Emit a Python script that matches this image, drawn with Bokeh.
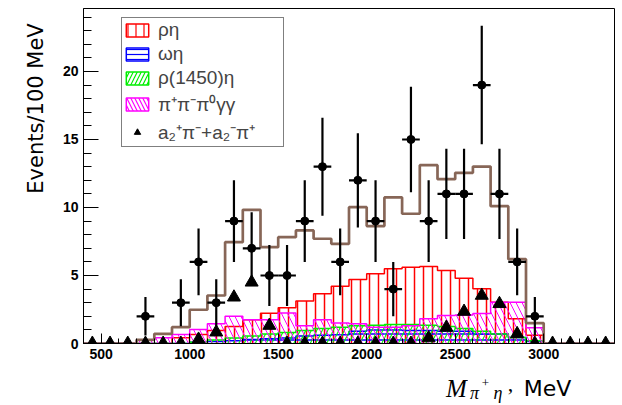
import numpy as np
from bokeh.plotting import figure
from bokeh.layouts import row, column
from bokeh.models import (Range1d, SingleIntervalTicker, FixedTicker, Legend,
                          LegendItem, ColumnDataSource)
from bokeh.embed import file_html
from bokeh.resources import INLINE

# ---------------- data ----------------
bin_centers = [450, 550, 650, 750, 850, 950, 1050, 1150, 1250, 1350,
               1450, 1550, 1650, 1750, 1850, 1950, 2050, 2150, 2250, 2350,
               2450, 2550, 2650, 2750, 2850, 2950, 3050, 3150, 3250, 3350]
bin_width = 100

total_mc = [0, 0, 0, 0.27, 0.71, 1.2, 2.48, 3.53, 7.45, 9.83,
            7.08, 7.82, 8.31, 7.7, 7.33, 10.02, 8.63, 10.74, 9.54, 13.11,
            12.08, 12.55, 13.01, 10.1, 6.2, 1.5, 0, 0, 0, 0]
rho_eta = [0, 0, 0, 0, 0, 0.42, 0.66, 0.96, 1.25, 1.74,
           2.23, 2.63, 3.13, 3.65, 4.2, 4.7, 5.13, 5.5, 5.61, 5.66,
           5.37, 4.8, 4.02, 3.04, 1.82, 0.6, 0, 0, 0, 0]
omega_eta = [0, 0, 0, 0, 0, 0, 0.1, 0.15, 0.2, 0.3,
             0.35, 0.4, 0.55, 0.6, 0.65, 0.9, 1.0, 1.0, 0.95, 0.95,
             0.9, 0.9, 0.7, 0.7, 0.45, 0.15, 0, 0, 0, 0]
rho1450_eta = [0, 0, 0, 0, 0, 0, 0.1, 0.25, 0.4, 0.55,
               0.7, 0.8, 0.95, 1.1, 1.2, 1.3, 1.35, 1.4, 1.4, 1.35,
               1.25, 1.1, 0.9, 0.7, 0.45, 0.2, 0, 0, 0, 0]
pipipi0gg = [0, 0, 0, 0.27, 0.42, 0.66, 1.03, 1.45, 2.0, 1.75,
             1.75, 2.25, 1.3, 1.75, 1.5, 1.45, 1.2, 1.2, 1.3, 1.82,
             2.06, 2.1, 2.2, 3.04, 3.04, 1.15, 0, 0, 0, 0]
a2pi = [0, 0, 0, 0, 0, 0, 0.3, 0.83, 3.4, 4.5,
        1.32, 0, 0, 0, 0, 0, 0, 0, 0, 0.4,
        1.18, 2.35, 3.53, 2.92, 0.71, 0, 0, 0, 0, 0]

data_x = [750, 950, 1050, 1150, 1250, 1350, 1450, 1550, 1650, 1750, 1850,
          1950, 2050, 2150, 2250, 2350, 2450, 2550, 2650, 2750, 2850, 2950]
data_n = [2, 3, 6, 3, 9, 7, 5, 5, 9, 13, 6,
          12, 9, 4, 15, 9, 11, 11, 19, 11, 6, 2]

x_ticks_interval = 500
y_ticks_interval = 5

FONT = "Liberation Sans"

# ---------------- main figure ----------------
p = figure(width=573, height=368, x_range=Range1d(400, 3400),
           y_range=Range1d(0, 24.63), output_backend="svg",
           toolbar_location=None, min_border_left=34, min_border_right=8,
           min_border_top=8, min_border_bottom=25)
p.grid.visible = False
p.outline_line_color = "black"
p.outline_line_width = 1
p.background_fill_color = "white"
p.border_fill_color = "white"

for ax, interval, tin, mtin in ((p.xaxis, x_ticks_interval, 10, 5),
                                (p.yaxis, y_ticks_interval, 15, 8)):
    ax.ticker = SingleIntervalTicker(interval=interval, num_minor_ticks=5)
    ax.major_tick_in = tin
    ax.major_tick_out = 0
    ax.minor_tick_in = mtin
    ax.minor_tick_out = 0
    ax.axis_line_color = "black"
    ax.major_tick_line_color = "black"
    ax.minor_tick_line_color = "black"
    ax.major_label_text_font = FONT
    ax.major_label_text_font_style = "bold"
    ax.major_label_text_font_size = "14px"
    ax.major_label_text_color = "black"
    ax.major_label_standoff = 5

centers = np.array(bin_centers, dtype=float)
lefts = centers - bin_width / 2
rights = centers + bin_width / 2


def step_xy(vals):
    xs, ys = [lefts[0]], [0.0]
    for l, r, v in zip(lefts, rights, vals):
        xs += [l, r]
        ys += [v, v]
    xs.append(rights[-1])
    ys.append(0.0)
    return xs, ys


hist_specs = [
    ("ρη", rho_eta, "#ff0000", "|", 9, 1.5),
    ("ωη", omega_eta, "#0000ff", "-", 6, 1.5),
    ("ρ(1450)η", rho1450_eta, "#00ee00", "/", 11, 1.1),
    ("π⁺π⁻π⁰γγ", pipipi0gg, "#ff00ff", "\\", 12, 1.0),
]

legend_items = []
for label, vals, color, pat, scale, lw in hist_specs:
    src = ColumnDataSource(dict(left=lefts, right=rights, top=vals,
                                bottom=np.zeros(len(vals))))
    p.quad(left="left", right="right", top="top", bottom="bottom",
           source=src, fill_alpha=0, line_alpha=0, hatch_pattern=pat,
           hatch_color=color, hatch_scale=scale, hatch_weight=lw)
    xs, ys = step_xy(vals)
    p.line(xs, ys, line_color=color, line_width=1.5)
    proxy = p.quad(left="left", right="right", top="top", bottom="bottom",
                   source=src, fill_color="white", fill_alpha=1,
                   line_color=color, line_width=1.5, hatch_pattern=pat,
                   hatch_color=color, hatch_scale=8 if pat != "-" else 5,
                   hatch_weight=1.2, visible=False)
    legend_items.append(LegendItem(label=label, renderers=[proxy]))

# total MC
xs, ys = step_xy(total_mc)
p.line(xs, ys, line_color="#876657", line_width=2.7)

# a2 pi triangles
tri = p.scatter(bin_centers, a2pi, marker="triangle", size=13,
                fill_color="black", line_color="black")
legend_items.append(LegendItem(label="a₂⁺π⁻+a₂⁻π⁺\u2003", renderers=[tri]))

# data points with error bars
dx = np.array(data_x, dtype=float)
dn = np.array(data_n, dtype=float)
err = np.sqrt(dn)
p.segment(dx, dn - err, dx, dn + err, line_color="black", line_width=2.2)
p.segment(dx - bin_width / 2, dn, dx + bin_width / 2, dn,
          line_color="black", line_width=2.2)
p.scatter(dx, dn, marker="circle", size=8, fill_color="black",
          line_color="black")

legend = Legend(items=legend_items, location=(38, 196), margin=0,
                padding=1, spacing=2, glyph_width=28, glyph_height=16,
                label_height=20, label_width=124, label_standoff=7,
                label_text_font=FONT, label_text_font_size="19px",
                border_line_color="black", border_line_width=1,
                background_fill_color="white", background_fill_alpha=1)
p.add_layout(legend, "center")


def hide_axis(ax):
    ax.ticker = FixedTicker(ticks=[])
    ax.axis_line_color = None
    ax.major_tick_line_color = None
    ax.minor_tick_line_color = None
    ax.major_tick_in = 0
    ax.major_tick_out = 0
    ax.minor_tick_in = 0
    ax.minor_tick_out = 0
    ax.major_label_text_font_size = "0px"
    ax.major_label_standoff = 0


def strip_fig(w, h, **kw):
    f = figure(width=w, height=h, x_range=Range1d(0, 1), y_range=Range1d(0, 1),
               output_backend="svg", toolbar_location=None, **kw)
    f.grid.visible = False
    f.outline_line_color = None
    f.background_fill_color = "white"
    f.border_fill_color = "white"
    return f


# y-axis title: label of an invisible axis whose frame spans the title's extent
yfig = strip_fig(49, 405, x_axis_type=None, min_border_left=48,
                 min_border_right=0, min_border_top=18, min_border_bottom=207)
yax = yfig.yaxis[0]
hide_axis(yax)
yax.axis_label = "Events/100 MeV"
yax.axis_label_text_font = "DejaVu Sans"
yax.axis_label_text_font_style = "normal"
yax.axis_label_text_font_size = "21px"
yax.axis_label_text_color = "black"
yax.axis_label_standoff = 1

# x-axis title: pieces, each the label of an invisible axis (mixed fonts)
title_parts = [
    # text, width, font, style, size, standoff
    (None, 395, None, None, None, None),
    ("M", 24, "Liberation Serif", "italic", "25px", 6),
    ("π", 12, "Liberation Serif", "italic", "18px", 14),
    ("+", 10, "Liberation Serif", "normal", "13px", 10),
    ("η", 15, "Liberation Serif", "italic", "18px", 14),
    (",", 10, "Liberation Serif", "normal", "22px", 8),
    ("MeV", 64, "DejaVu Sans", "normal", "22px", 7),
    (None, 43, None, None, None, None),
]
pieces = []
for txt, w, font, style, size, standoff in title_parts:
    if txt is None:
        pieces.append(strip_fig(w, 37, x_axis_type=None, y_axis_type=None,
                                min_border=0))
        continue
    f = strip_fig(w, 37, y_axis_type=None, min_border_left=0,
                  min_border_right=0, min_border_top=0, min_border_bottom=36)
    ax = f.xaxis[0]
    hide_axis(ax)
    ax.axis_label = txt
    ax.axis_label_text_font = font
    ax.axis_label_text_font_style = style
    ax.axis_label_text_font_size = size
    ax.axis_label_text_color = "black"
    ax.axis_label_standoff = standoff
    pieces.append(f)

xrow = row(*pieces, spacing=0)
layout = row(yfig, column(p, xrow, spacing=0), spacing=0)
open("out.html", "w").write(file_html(layout, INLINE))
